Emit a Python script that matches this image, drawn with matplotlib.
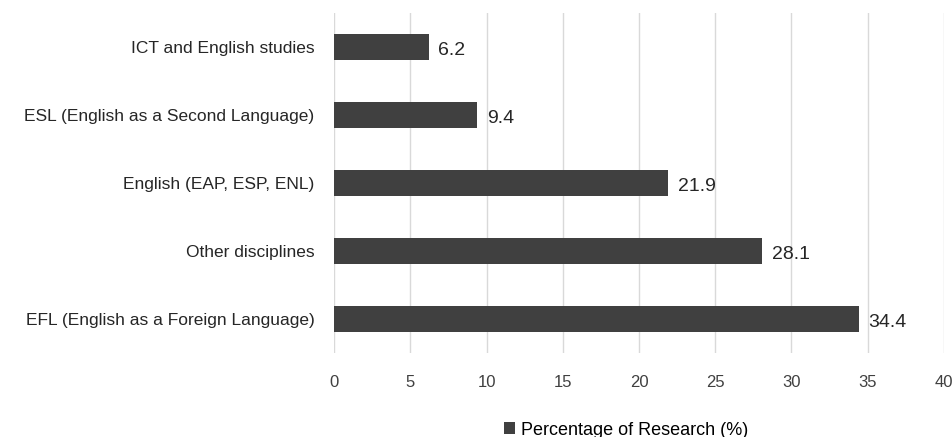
import matplotlib.pyplot as plt

categories = [
    "ICT and English studies",
    "ESL (English as a Second Language)",
    "English (EAP, ESP, ENL)",
    "Other disciplines",
    "EFL (English as a Foreign Language)",
]
values = [6.2, 9.4, 21.9, 28.1, 34.4]
xticks = [0, 5, 10, 15, 20, 25, 30, 35, 40]

plt.rcParams["font.family"] = ["Liberation Sans", "DejaVu Sans"]

fig = plt.figure(figsize=(9.53, 4.37), dpi=100)
ax = fig.add_axes([0.3505, 0.192, 0.64, 0.778])

pos = list(range(len(categories)))
bars = ax.barh(pos, values, height=0.38, color="#404040",
               label="Percentage of Research (%)", zorder=3)

for p, v in zip(pos, values):
    ax.text(v + 0.65, p + 0.05, f"{v}", va="center", ha="left",
            fontsize=14, color="#262626")

ax.set_yticks(pos)
ax.set_yticklabels(categories, fontsize=12.5, color="#262626")
ax.set_ylim(len(categories) - 0.5, -0.5)
ax.set_xlim(0, 40)
ax.set_xticks(xticks)
ax.set_xticklabels([str(t) for t in xticks], fontsize=12, color="#404040")

ax.grid(axis="x", color="#d9d9d9", linewidth=1, zorder=0)
for s in ax.spines.values():
    s.set_visible(False)
ax.tick_params(axis="x", length=0, pad=16)
ax.tick_params(axis="y", length=0, pad=14)

fig.legend(loc="center", bbox_to_anchor=(0.657, 0.016), frameon=False,
           fontsize=13, handlelength=0.6, handleheight=0.6, handletextpad=0.3)

fig.savefig("out.png", dpi=100)
